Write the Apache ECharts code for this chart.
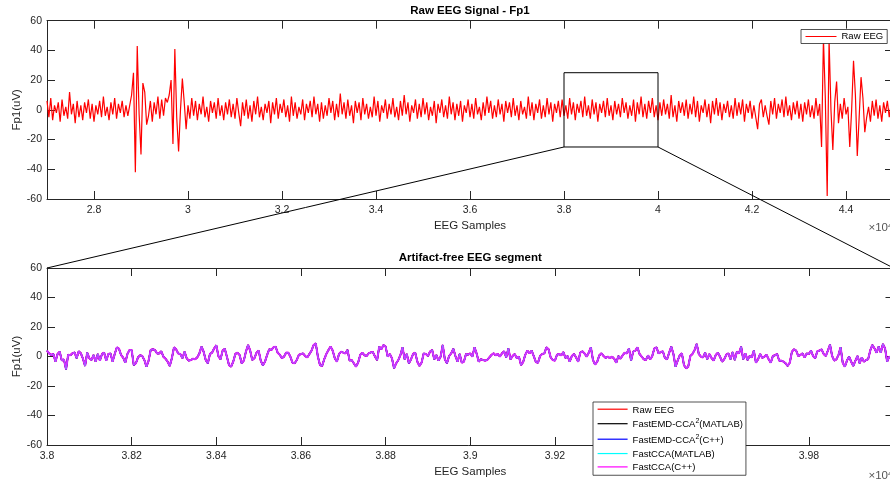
<!DOCTYPE html>
<html><head><meta charset="utf-8">
<script src="https://cdn.jsdelivr.net/npm/echarts@6/dist/echarts.min.js"></script>
<style>html,body{margin:0;padding:0;background:#fff}#c{width:890px;height:484px}</style>
</head><body><div id="c"></div>
<script>
// ---------- data ----------
const rawStart = 27000, rawStep = 40;
const rawEEG = [
6,-5,8,-7,3,-2,5,-8,7,-4,2,-6,12,-3,4,-9,6,-5,3,-7,
5,-2,7,-6,4,-8,3,-3,6,-5,9,-4,2,-7,5,-3,8,-6,4,-2,
6,-5,3,-4,3,10,25,-42,43,-3,-30,18,12,-10,-4,6,-8,5,-3,9,
-6,7,-4,8,5,10,20,-23,41,-5,-28,0,21,5,-13,3,-6,8,-4,6,
-7,4,-3,9,-5,2,-8,6,-2,5,-6,8,-4,3,-7,5,-3,7,-5,4,
-6,8,-2,-11,5,-4,7,-6,3,-8,6,-3,9,-5,2,-7,4,-2,6,-9,
5,-3,8,-6,4,-2,7,-5,3,-8,9,-4,5,-6,2,-3,7,-7,4,-2,
6,-5,9,-3,4,-8,5,-6,3,-4,8,-2,6,-7,4,-5,11,-3,5,-6,
7,-4,3,-9,6,-2,5,-7,8,-3,4,-6,2,-5,9,-4,6,-8,3,-2,
7,-6,4,-3,8,-5,2,-7,6,-4,10,-3,5,-8,3,-2,7,-6,4,-5,
8,-3,5,-7,2,-4,6,-9,4,-2,7,-5,3,-6,9,-3,5,-7,4,-4,
6,-8,3,-2,7,-5,4,-6,8,-3,2,-7,5,-4,9,-2,6,-6,3,-5,
7,-3,4,-8,6,-2,5,-5,8,-4,3,-7,6,-3,2,-6,9,-4,5,-7,
4,-2,7,-6,3,-5,8,-3,5,-8,4,-2,6,-5,7,-4,3,-6,8,-3,
5,-7,4,-2,6,-5,9,-4,3,-6,7,-3,5,-8,4,-2,6,-5,8,-4,
3,-7,6,-3,4,-5,8,-2,5,-6,3,-4,7,-8,5,-3,9,-5,4,-6,
6,-2,8,-5,3,-7,5,-4,7,-3,4,-6,10,-5,3,-8,6,-2,5,-4,
7,-6,4,-3,9,-5,6,-8,3,-2,7,-5,4,-9,6,-3,8,-4,5,-7,
4,-2,6,-5,3,-6,8,-4,5,-3,7,-8,4,-2,6,-6,3,-5,-13,4,
7,-5,3,-4,-10,6,-3,8,-6,4,-2,7,-5,9,-4,3,-7,5,-3,6,
-6,4,-8,5,-3,7,-5,3,-6,8,-4,4,-25,48,8,-58,47,0,-27,5,
19,-9,4,-6,8,-3,2,-25,0,33,10,-31,-5,22,8,-15,-5,2,-8,6,
-4,7,-6,3,-8,5,-2,6,-5,4,-3
];
const segStart = 38000, segStep = 5, segEnd = 40000;
const segmentEEG = [
4.0,2.1,1.0,1.7,-3.5,1.7,3.3,-2.8,-2.0,-8.7,
1.2,0.8,2.1,2.8,-1.2,3.5,2.1,-1.5,-6.4,2.6,
-1.2,-2.4,1.0,-3.5,1.7,-2.8,1.7,2.6,-2.8,1.7,
2.1,-3.5,1.7,6.2,5.3,1.0,-0.8,-4.2,1.7,4.4,
4.4,-5.8,-4.6,-0.6,0.8,0.3,-2.4,-6.9,-2.8,4.4,
4.9,4.4,2.1,2.1,3.5,-0.1,-1.5,-3.5,-6.4,-1.2,
6.2,4.9,2.1,1.7,-1.2,3.3,-1.2,-2.8,-2.4,-1.5,
-1.9,-0.6,2.1,6.7,3.3,-2.4,-4.6,1.7,2.6,5.5,
7.6,0.3,-1.9,4.0,5.3,-0.1,-5.8,-6.9,-3.5,1.7,
2.6,1.0,-4.6,-2.8,3.3,7.8,4.0,-2.4,-1.2,2.6,
4.0,-2.8,-6.0,-3.5,1.0,4.9,4.4,6.2,6.7,2.6,
1.2,-1.2,-0.1,2.6,2.6,-0.1,-4.2,-4.6,-2.4,1.0,
1.7,2.1,0.3,-0.6,1.7,4.0,7.8,8.9,-0.1,-5.8,
-6.4,-1.9,1.7,4.4,6.7,4.0,-1.2,-3.5,1.7,3.3,
2.6,2.1,4.4,-2.8,-2.4,-4.6,-6.9,-4.2,1.0,2.6,
0.8,0.3,2.1,2.8,3.0,-0.1,-2.4,6.7,4.9,7.8,
6.7,-0.1,1.7,-1.2,-8.0,-4.6,-2.4,1.0,6.2,-1.9,
1.7,-4.6,-1.9,1.7,2.6,-3.5,-6.4,-4.2,2.1,1.7,
0.3,3.3,4.4,-1.9,1.0,-2.8,-0.1,7.8,-1.9,-4.6,
0.3,2.1,5.3,0.3,-3.5,1.7,-4.2,-3.5,1.7,1.2,
2.1,-0.1,6.2,2.1,-3.5,-1.9,-2.4,-2.8,-2.4,-0.6,
1.0,2.1,0.8,1.7,-0.1,2.1,3.5,-0.6,5.5,-1.9,
0.3,1.7,-1.2,-0.1,-5.8,-3.7,1.2,4.0,2.1,4.0,
0.3,-3.7,-4.2,0.3,1.7,2.1,6.2,4.9,-0.6,-2.4,
-2.8,1.2,1.7,0.8,3.0,-1.0,0.3,-3.5,0.3,1.7,
-0.6,-3.5,2.6,3.5,2.1,-0.1,2.6,6.2,-2.4,-5.5,
-3.5,0.8,2.1,0.3,-1.0,-0.1,-1.2,-0.1,-1.5,-4.2,
0.3,-1.5,0.8,2.6,2.1,5.5,-2.8,3.3,4.0,6.2,
1.7,-0.1,-1.9,-2.4,0.8,-1.9,0.3,5.5,6.2,2.1,
3.0,3.5,-1.0,-1.9,2.6,6.7,1.7,-6.9,-2.8,0.8,
2.1,-5.8,-8.0,-6.9,0.3,1.7,4.4,8.5,1.7,-0.1,
-0.6,2.6,-1.9,1.7,-1.0,-2.8,1.0,2.6,-0.1,-3.5,
-1.9,1.2,2.1,-1.9,3.0,-2.4,3.3,2.1,6.7,-1.9,
2.1,-2.4,0.3,-0.6,4.0,-4.2,-1.9,1.7,-1.0,-0.1,
1.2,-1.9,-4.2,0.3,0.8,1.7,-2.8,-2.8,-3.5,-4.6,
-6.4,-4.2,3.3,4.9,4.0,0.3,1.0,2.1,-0.6,2.1,
1.7,4.0,0.3,-1.2,3.5,4.0,4.9,1.7,0.3,4.0,
8.0,0.3,-2.8,-1.9,1.0,6.2,-4.2,-6.9,-2.8,-0.1,
-3.5,-6.4,-2.8,0.3,-4.6,-0.6,-3.5,-2.4,-1.9,4.0,
7.8,5.5,2.6,6.7,2.6,8.5,5.5,-3.5,-0.1,-1.2,
-1.2
];
const topTickValues = [28000,30000,32000,34000,36000,38000,40000,42000,44000];
const segmentSeriesNames = ['Raw EEG','FastEMD-CCA²(MATLAB)','FastEMD-CCA²(C++)','FastCCA(MATLAB)','FastCCA(C++)'];
const segmentColors = ['#ff0000','#000000','#0000ff','#00ffff','#ff00ff'];
const zoomBox = {x0: 38000, x1: 40000, y0: -25, y1: 25};
const titles = ['Raw EEG Signal - Fp1', 'Artifact-free EEG segment'];

// ---------- build ----------
const FONT = '"Liberation Sans", Arial, Helvetica, sans-serif';
const AX = '#262626';
const rawPairs = rawEEG.map((v, i) => [rawStart + i * rawStep, v]);
const segPairs = segmentEEG.map((v, i) => [segStart + i * segStep, v]);
const fmt = v => String(+(v / 10000).toFixed(4));

function xAx(grid, pos, min, max, main, extra) {
  return Object.assign({
    gridIndex: grid, type: 'value', position: pos, min: min, max: max,
    axisLine: {show: true, onZero: false, lineStyle: {color: AX, width: 1}},
    axisTick: {show: true, inside: true, length: 8, lineStyle: {color: AX}},
    axisLabel: {show: main, formatter: fmt, color: AX, fontSize: 10.5, fontFamily: FONT, margin: 6, showMaxLabel: false},
    splitLine: {show: false},
    name: main ? 'EEG Samples' : '', nameLocation: 'middle', nameGap: 20.5,
    nameTextStyle: {color: AX, fontSize: 11.5, fontFamily: FONT}
  }, extra || {});
}
function yAx(grid, pos, main) {
  return {
    gridIndex: grid, type: 'value', position: pos, min: -60, max: 60, interval: 20,
    axisLine: {show: true, onZero: false, lineStyle: {color: AX, width: 1}},
    axisTick: {show: true, inside: true, length: 8, lineStyle: {color: AX}},
    axisLabel: {show: main, color: AX, fontSize: 10.5, fontFamily: FONT, margin: 5},
    splitLine: {show: false},
    name: main ? 'Fp1(uV)' : '', nameLocation: 'middle', nameGap: 24, nameRotate: 90, nameMoveOverlap: false,
    nameTextStyle: {color: AX, fontSize: 11.5, fontFamily: FONT}
  };
}
const topTickExtra = (main) => ({
  axisTick: {show: true, inside: true, length: 8, lineStyle: {color: AX}, customValues: topTickValues},
  axisLabel: {show: main, formatter: fmt, color: AX, fontSize: 10.5, fontFamily: FONT, margin: 6, customValues: topTickValues}
});

const series = [{
  name: 'Raw EEG', type: 'line', xAxisIndex: 0, yAxisIndex: 0, data: rawPairs,
  symbol: 'none', showSymbol: false, sampling: null, animation: false,
  lineStyle: {color: '#ff0000', width: 1.2}, itemStyle: {color: '#ff0000'}, z: 2
}];
segmentSeriesNames.forEach((n, k) => {
  const col = segmentColors[k];
  const isMag = col === '#ff00ff';
  const isCyan = col === '#00ffff';
  series.push({
    name: n, type: 'line', xAxisIndex: 2, yAxisIndex: 2, data: segPairs,
    symbol: 'none', showSymbol: false, animation: false,
    lineStyle: {color: col, width: isMag ? 2.1 : (isCyan ? 1 : 1.5), opacity: isCyan ? 0.4 : 1},
    itemStyle: {color: col},
    z: isCyan ? 6 : (isMag ? 5 : 2 + k * 0.1)
  });
});

const legendRich = {
  n: {fontSize: 9.5, fontFamily: FONT, color: '#000', lineHeight: 11.5, verticalAlign: 'bottom'},
  s: {fontSize: 7, fontFamily: FONT, color: '#000', lineHeight: 7, verticalAlign: 'top', padding: [0, 0, 5.5, 0]}
};
const legendFmt = name => {
  const p = name.split('²');
  return p.length > 1 ? '{n|' + p[0] + '}{s|2}{n|' + p[1] + '}' : '{n|' + name + '}';
};

const option = {
  animation: false,
  backgroundColor: '#fff',
  grid: [
    {left: 47, top: 20.7, width: 846, height: 178.3, show: false, containLabel: false, outerBoundsMode: 'none'},
    {left: 47, top: 268, width: 846.5, height: 177, show: false, containLabel: false, outerBoundsMode: 'none'}
  ],
  xAxis: [
    xAx(0, 'bottom', 27000, 45000, true, topTickExtra(true)),
    xAx(0, 'top', 27000, 45000, false, topTickExtra(false)),
    xAx(1, 'bottom', segStart, segEnd, true, {interval: 200}),
    xAx(1, 'top', segStart, segEnd, false, {interval: 200})
  ],
  yAxis: [yAx(0, 'left', true), yAx(0, 'right', false), yAx(1, 'left', true), yAx(1, 'right', false)],
  legend: [
    {data: ['Raw EEG'], left: 801, top: 29.5, orient: 'horizontal', itemWidth: 31, itemHeight: 11,
     padding: [2, 4, 2, 4], backgroundColor: '#fff', borderColor: AX, borderWidth: 0.8, selectedMode: false,
     itemStyle: {opacity: 0, borderWidth: 0},
     lineStyle: {width: 1, opacity: 1}, textStyle: {fontSize: 9.5, color: '#000', fontFamily: FONT}},
    {data: segmentSeriesNames, left: 593, top: 402, orient: 'vertical', itemWidth: 30, itemHeight: 11.5, itemGap: 3,
     padding: [2.6, 3, 2.6, 4], backgroundColor: '#fff', borderColor: AX, borderWidth: 0.8, selectedMode: false,
     itemStyle: {opacity: 0, borderWidth: 0},
     lineStyle: {width: 1.2, opacity: 1}, formatter: legendFmt,
     textStyle: {fontSize: 9.5, color: '#000', fontFamily: FONT, rich: legendRich}}
  ],
  series: series
};

const chart = echarts.init(document.getElementById('c'), null, {renderer: 'canvas'});
chart.setOption(option);

const a = chart.convertToPixel({xAxisIndex: 0, yAxisIndex: 0}, [zoomBox.x0, zoomBox.y1]);
const b = chart.convertToPixel({xAxisIndex: 0, yAxisIndex: 0}, [zoomBox.x1, zoomBox.y0]);
const c = chart.convertToPixel({xAxisIndex: 2, yAxisIndex: 2}, [segStart, 60]);
const d = chart.convertToPixel({xAxisIndex: 2, yAxisIndex: 2}, [segEnd, 60]);
const t0 = chart.convertToPixel({xAxisIndex: 0, yAxisIndex: 0}, [36000, 60]);
const t1 = chart.convertToPixel({xAxisIndex: 2, yAxisIndex: 2}, [39000, 60]);

chart.setOption({
  graphic: {elements: [
    {type: 'rect', z: 50, shape: {x: a[0], y: a[1], width: b[0] - a[0], height: b[1] - a[1]},
     style: {fill: null, stroke: '#000', lineWidth: 1}},
    {type: 'line', z: 50, shape: {x1: a[0], y1: b[1], x2: c[0], y2: c[1]}, style: {stroke: '#000', lineWidth: 1}},
    {type: 'line', z: 50, shape: {x1: b[0], y1: b[1], x2: d[0], y2: d[1]}, style: {stroke: '#000', lineWidth: 1}},
    {type: 'text', z: 50, style: {text: titles[0], x: t0[0], y: 11, align: 'center', verticalAlign: 'middle',
      font: 'bold 11.5px ' + FONT, fill: '#000'}},
    {type: 'text', z: 50, style: {text: titles[1], x: t1[0], y: 258.3, align: 'center', verticalAlign: 'middle',
      font: 'bold 11.5px ' + FONT, fill: '#000'}},
    {type: 'text', z: 50, style: {text: '{a|×10}{b|4}', x: 868.5, y: 228, verticalAlign: 'middle',
      rich: {a: {fontSize: 11.5, fontFamily: FONT, fill: '#555'}, b: {fontSize: 8, fontFamily: FONT, fill: '#555', verticalAlign: 'top'}}}},
    {type: 'text', z: 50, style: {text: '{a|×10}{b|4}', x: 868.5, y: 475.5, verticalAlign: 'middle',
      rich: {a: {fontSize: 11.5, fontFamily: FONT, fill: '#555'}, b: {fontSize: 8, fontFamily: FONT, fill: '#555', verticalAlign: 'top'}}}}
  ]}
});
</script>
</body></html>
